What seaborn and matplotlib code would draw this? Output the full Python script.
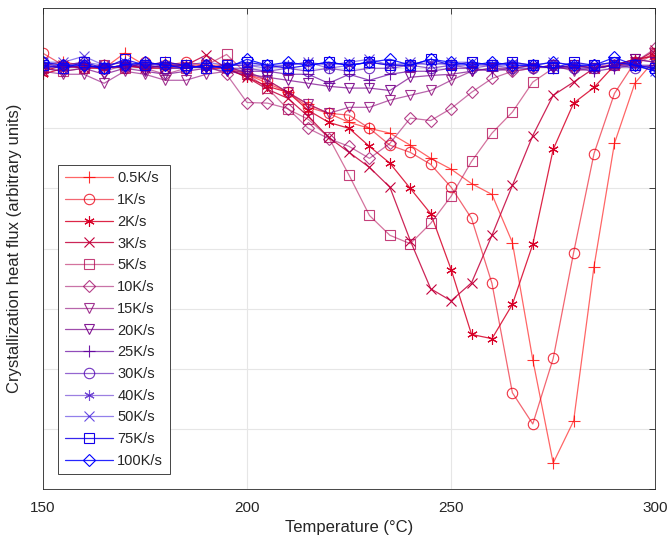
import numpy as np
import pandas as pd
import seaborn as sns
from matplotlib import pyplot as plt

# temperature grid (deg C), one point every 5 degrees
temps = list(range(150, 301, 5))

rates = ['0.5K/s', '1K/s', '2K/s', '3K/s', '5K/s', '10K/s', '15K/s',
         '20K/s', '25K/s', '30K/s', '40K/s', '50K/s', '75K/s', '100K/s']
markers = ['+', 'o', '*', 'x', 's', 'd', 'v', 'v', '+', 'o', '*', 'x', 's', 'd']
# line opacity as it appears in the figure
line_alpha = [0.6, 0.6, 0.85, 0.85, 0.55, 0.55, 0.6, 0.7, 0.7, 0.6, 0.5, 0.5, 0.85, 0.85]

# heat flux, arbitrary units
s05 = [0.05, 0.1, 0.05, 0.0, 0.25, 0.05, 0.1, 0.05, 0.05, 0.05, -0.1, -0.25, -0.4, -0.6, -0.75,
       -0.9, -1.0, -1.08, -1.28, -1.5, -1.68, -1.92, -2.1, -2.9, -4.85, -6.57, -5.87, -3.3,
       -1.25, -0.25, 0.15]
s1 = [0.25, 0.05, 0.0, 0.05, 0.0, 0.1, 0.05, 0.1, 0.05, 0.0, -0.1, -0.2, -0.4, -0.65, -0.75,
      -0.78, -1.0, -1.28, -1.4, -1.6, -1.98, -2.5, -3.58, -5.4, -5.92, -4.83, -3.07, -1.42,
      -0.42, 0.1, 0.25]
s2 = [-0.1, 0.0, 0.05, 0.0, 0.05, 0.0, 0.05, 0.05, 0.0, 0.0, -0.15, -0.3, -0.4, -0.7, -0.9,
      -1.0, -1.3, -1.58, -2.0, -2.42, -3.35, -4.43, -4.5, -3.93, -2.93, -1.35, -0.58, -0.32,
      0.05, 0.15, 0.2]
s3 = [-0.05, 0.05, 0.0, 0.0, 0.05, 0.0, 0.0, 0.05, 0.22, 0.0, -0.15, -0.35, -0.5, -0.8, -1.15,
      -1.4, -1.65, -1.98, -2.87, -3.67, -3.87, -3.57, -2.78, -1.95, -1.12, -0.45, -0.23, 0.0,
      0.05, 0.1, 0.3]
s5 = [0.0, -0.05, 0.0, 0.05, 0.0, 0.05, 0.0, 0.0, 0.05, 0.23, -0.1, -0.33, -0.68, -0.85, -1.15,
      -1.78, -2.45, -2.78, -2.92, -2.58, -2.13, -1.55, -1.08, -0.73, -0.23, 0.0, 0.05, 0.0,
      0.05, 0.05, 0.25]
s10 = [0.0, 0.05, 0.1, -0.05, 0.05, 0.0, -0.1, 0.0, 0.05, -0.1, -0.57, -0.58, -0.67, -1.0,
       -1.17, -1.3, -1.5, -1.25, -0.83, -0.87, -0.67, -0.4, -0.17, -0.05, 0.0, 0.05, 0.0, 0.05,
       0.05, 0.1, 0.33]
s15 = [-0.05, -0.1, -0.1, -0.25, -0.05, -0.1, -0.2, -0.2, -0.1, -0.05, -0.05, -0.2, -0.4,
       -0.6, -0.75, -0.65, -0.65, -0.53, -0.45, -0.37, -0.2, -0.05, 0.0, -0.05, 0.0, 0.05,
       -0.05, 0.0, 0.05, 0.15, 0.1]
s20 = [0.0, -0.05, 0.0, -0.1, 0.0, -0.05, -0.1, -0.05, 0.0, -0.05, -0.1, -0.15, -0.2, -0.25,
       -0.3, -0.33, -0.33, -0.37, -0.15, -0.12, -0.1, -0.05, 0.0, 0.0, 0.05, 0.0, 0.05, 0.0,
       0.05, 0.15, 0.1]
s25 = [0.0, 0.05, 0.0, 0.05, 0.1, 0.0, 0.05, 0.0, 0.05, 0.0, -0.05, -0.05, -0.1, -0.1, -0.25,
       -0.1, -0.2, -0.1, -0.05, -0.05, 0.0, 0.0, -0.05, 0.0, 0.05, 0.0, 0.0, -0.05, 0.0, 0.05,
       0.05]
s30 = [0.1, 0.0, 0.05, 0.0, 0.05, 0.05, 0.0, 0.0, 0.05, 0.0, 0.0, -0.05, 0.0, -0.05, 0.0,
       -0.05, 0.0, 0.0, 0.05, 0.0, 0.05, 0.0, 0.05, 0.0, 0.0, 0.05, 0.0, 0.0, 0.05, 0.0, 0.05]
s40 = [0.05, 0.05, 0.1, 0.05, 0.0, 0.1, 0.05, 0.05, 0.0, 0.05, 0.05, 0.0, 0.05, 0.1, 0.0,
       0.05, 0.1, 0.05, 0.05, 0.1, 0.05, 0.05, 0.05, 0.1, 0.05, 0.0, 0.05, 0.0, 0.05, 0.05, 0.0]
s50 = [0.1, 0.1, 0.2, 0.05, 0.1, 0.05, 0.05, 0.05, 0.1, 0.05, 0.05, 0.05, 0.05, 0.1, 0.05,
       0.1, 0.15, 0.05, 0.1, 0.05, 0.1, 0.1, 0.05, 0.05, 0.05, 0.1, 0.05, 0.05, 0.1, 0.05, -0.05]
s75 = [0.05, 0.0, 0.1, 0.0, 0.15, 0.05, 0.1, 0.05, 0.0, 0.05, 0.1, 0.05, 0.0, 0.05, 0.1, 0.05,
       0.1, 0.05, 0.05, 0.15, 0.05, 0.1, 0.05, 0.1, 0.05, 0.0, 0.1, 0.05, 0.1, 0.05, 0.0]
s100 = [0.1, 0.05, 0.05, 0.0, 0.05, 0.1, 0.05, 0.0, 0.05, 0.0, 0.15, 0.05, 0.1, 0.05, 0.1,
        0.05, 0.1, 0.15, 0.05, 0.15, 0.1, 0.05, 0.1, 0.05, 0.05, 0.1, 0.05, 0.05, 0.18, 0.05,
        -0.05]

series = [s05, s1, s2, s3, s5, s10, s15, s20, s25, s30, s40, s50, s75, s100]

# matlab-like marker shapes: line-art asterisk and square diamond
mpl_marker = {'*': (6, 2, 0), 'd': 'D'}
mpl_size = {'+': 8, 'o': 7.5, '*': 7.5, 'x': 7, 's': 7, 'd': 6, 'v': 7.5}

sns.set_style('white')
plt.rcParams['font.family'] = ['Liberation Sans', 'DejaVu Sans']

fig, ax = plt.subplots(figsize=(6.7, 5.45), dpi=100)
fig.subplots_adjust(left=0.064, right=0.978, bottom=0.103, top=0.985)

n = len(rates)
for i, (rate, vals, mk) in enumerate(zip(rates, series, markers)):
    f = i / (n - 1)
    rgb = (1 - f, 0.0, f)
    a = line_alpha[i]
    df = pd.DataFrame({'T': temps, 'flux': vals})
    sns.lineplot(data=df, x='T', y='flux', ax=ax, label=rate,
                 color=rgb + (a,), marker=mpl_marker.get(mk, mk),
                 markersize=mpl_size[mk], mfc='none', mec=rgb + (min(a + 0.2, 1),),
                 mew=0.8, linewidth=0.9)

ax.set_xlim(150, 300)
ax.set_ylim(-7, 1)
ax.set_xticks([150, 200, 250, 300])
ax.set_yticks(np.arange(-7, 2, 1))
ax.set_yticklabels([])
ax.grid(True, color='#e6e6e6', linewidth=0.8)
ax.set_axisbelow(True)
ax.tick_params(direction='in', length=4, width=0.6, colors='#262626',
               top=True, right=True, labelsize=11, pad=9)
for sp in ax.spines.values():
    sp.set_color('#262626')
    sp.set_linewidth(0.6)

ax.set_xlabel('Temperature (°C)', fontsize=12, color='#262626', labelpad=3)
ax.set_ylabel('Crystallization heat flux (arbitrary units)', fontsize=12,
              color='#262626', labelpad=6)

leg = ax.legend(loc='lower left', bbox_to_anchor=(0.025, 0.03), borderaxespad=0,
                fontsize=10.5, labelspacing=0.53, handlelength=3.3, handletextpad=0.3,
                borderpad=0.45, fancybox=False, framealpha=1, edgecolor='#262626')
leg.get_frame().set_linewidth(0.6)

fig.savefig('out.png', dpi=100)
